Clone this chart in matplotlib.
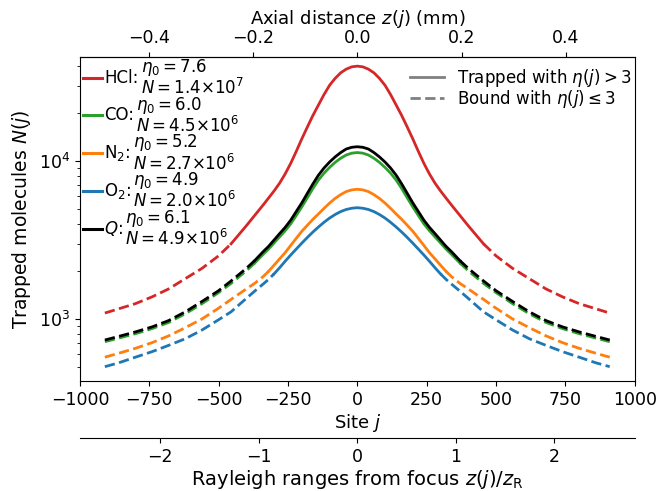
import numpy as np
import matplotlib
matplotlib.use("Agg")
import matplotlib.pyplot as plt
from matplotlib.lines import Line2D
from matplotlib.offsetbox import AnchoredOffsetbox, DrawingArea, HPacker, VPacker, TextArea

# 격자 위치 (j >= 0, 그림이 좌우 대칭이라 반쪽만 저장)
sites_half = np.array([0, 20, 40, 60, 80, 100, 120, 140, 160, 180, 200, 220, 240, 260, 280,
                       300, 320, 340, 370, 400, 455, 500, 560, 620, 680, 740, 800, 860, 910])

# 그림에서 읽은 값 N(j)
hcl_half = np.array([39800, 39400, 38100, 36100, 33300, 30100, 26300, 22600, 19400, 16400,
                     13800, 11500, 9660, 8280, 7240, 6460, 5820, 5250, 4520, 3890, 2990,
                     2510, 2090, 1800, 1550, 1380, 1250, 1160, 1090])
co_half = np.array([11300, 11200, 10900, 10400, 9790, 9100, 8370, 7570, 6700, 5850, 5120,
                    4520, 4000, 3620, 3310, 3030, 2770, 2560, 2260, 2020, 1680, 1470, 1250,
                    1080, 951, 869, 807, 757, 718])
n2_half = np.array([6620, 6560, 6400, 6120, 5790, 5410, 5010, 4620, 4270, 3920, 3590, 3240,
                    2920, 2630, 2400, 2190, 2000, 1850, 1680, 1550, 1330, 1170, 1000, 881,
                    782, 708, 652, 607, 573])
o2_half = np.array([5060, 5020, 4930, 4780, 4580, 4350, 4090, 3820, 3550, 3280, 3020, 2770,
                    2540, 2320, 2110, 1930, 1780, 1660, 1500, 1350, 1110, 989, 851, 750,
                    681, 621, 573, 528, 499])
q_half = np.array([12300, 12200, 11900, 11300, 10600, 9840, 9020, 8130, 7160, 6240, 5430,
                   4790, 4220, 3800, 3470, 3160, 2880, 2660, 2340, 2090, 1740, 1510, 1290,
                   1110, 977, 891, 828, 776, 736])

# eta(j) = 3 이 되는 경계 site
edges = [455, 370, 320, 300, 370]
names = ["HCl", "CO", "N$_2$", "O$_2$", "$Q$"]
eta0 = ["7.6", "6.0", "5.2", "4.9", "6.1"]
n_tot = ["1.4{\\times}10^7", "4.5{\\times}10^6", "2.7{\\times}10^6",
         "2.0{\\times}10^6", "4.9{\\times}10^6"]
colors = ["#d62728", "#2ca02c", "#ff7f0e", "#1f77b4", "black"]
curves = [hcl_half, co_half, n2_half, o2_half, q_half]

lattice_mm = 0.532e-3   # site 간격 (mm)
rayleigh_sites = 355.0  # z_R 를 site 수로

plt.rcParams["font.size"] = 12
plt.rcParams["xtick.labelsize"] = 12.5
plt.rcParams["ytick.labelsize"] = 12.5
plt.rcParams["mathtext.fontset"] = "dejavusans"

fig = plt.figure(figsize=(6.58, 4.91), dpi=100)
ax = fig.add_axes([0.121, 0.224, 0.844, 0.660])

sites = np.concatenate([-sites_half[::-1], sites_half[1:]])
rows = []
for name, e0, nt, c, half, edge in zip(names, eta0, n_tot, colors, curves, edges):
    vals = np.concatenate([half[::-1], half[1:]])
    inner = np.abs(sites) <= edge
    left = sites <= -edge
    right = sites >= edge
    ax.plot(sites[inner], vals[inner], color=c, lw=2)
    ax.plot(sites[left], vals[left], color=c, lw=2, ls="--")
    ax.plot(sites[right], vals[right], color=c, lw=2, ls="--")

    # 범례 한 줄: 선 + 이름 + 두 줄짜리 값
    da = DrawingArea(13.7, 8, 0, 0)
    da.add_artist(Line2D([0, 13.7], [4, 4], color=c, lw=2.2))
    name_box = TextArea(name + ":", textprops=dict(fontsize=12))
    val_box = TextArea(r"$\eta_0=" + e0 + "$\n" + r"$N=" + nt + "$",
                       textprops=dict(fontsize=12, linespacing=1.0))
    rows.append(HPacker(children=[da, name_box, val_box], align="center", pad=0, sep=1.6))

box = VPacker(children=rows, align="left", pad=0, sep=-2.4)
ax.add_artist(AnchoredOffsetbox(loc="upper left", child=box, pad=0, borderpad=0,
                                bbox_to_anchor=(0.006, 1.0), bbox_transform=ax.transAxes,
                                frameon=False))

ax.set_yscale("log")
ax.set_ylim(405, 45500)
ax.set_xlim(-1001, 1001)
ax.set_xlabel("Site $j$", fontsize=13, labelpad=2)
ax.set_ylabel("Trapped molecules $N(j)$", fontsize=13.5)

style_handles = [Line2D([], [], color="gray", lw=2),
                 Line2D([], [], color="gray", lw=2, ls="--")]
ax.legend(style_handles, [r"Trapped with $\eta(j) > 3$", r"Bound with $\eta(j) \leq 3$"],
          loc="upper right", bbox_to_anchor=(1.0, 0.98), frameon=False,
          borderaxespad=0.0, borderpad=0.2, labelspacing=-0.05)

top = ax.secondary_xaxis("top", functions=(lambda j: j * lattice_mm, lambda z: z / lattice_mm))
top.set_xticks([-0.4, -0.2, 0.0, 0.2, 0.4])
top.set_xlabel("Axial distance $z(j)$ (mm)", fontsize=13)

bottom = ax.secondary_xaxis(-0.176, functions=(lambda j: j / rayleigh_sites,
                                               lambda r: r * rayleigh_sites))
bottom.set_xticks([-2, -1, 0, 1, 2])
bottom.set_xlabel(r"Rayleigh ranges from focus $z(j)/z_\mathrm{R}$", fontsize=14, labelpad=1.5)

fig.savefig("out.png", dpi=100)
